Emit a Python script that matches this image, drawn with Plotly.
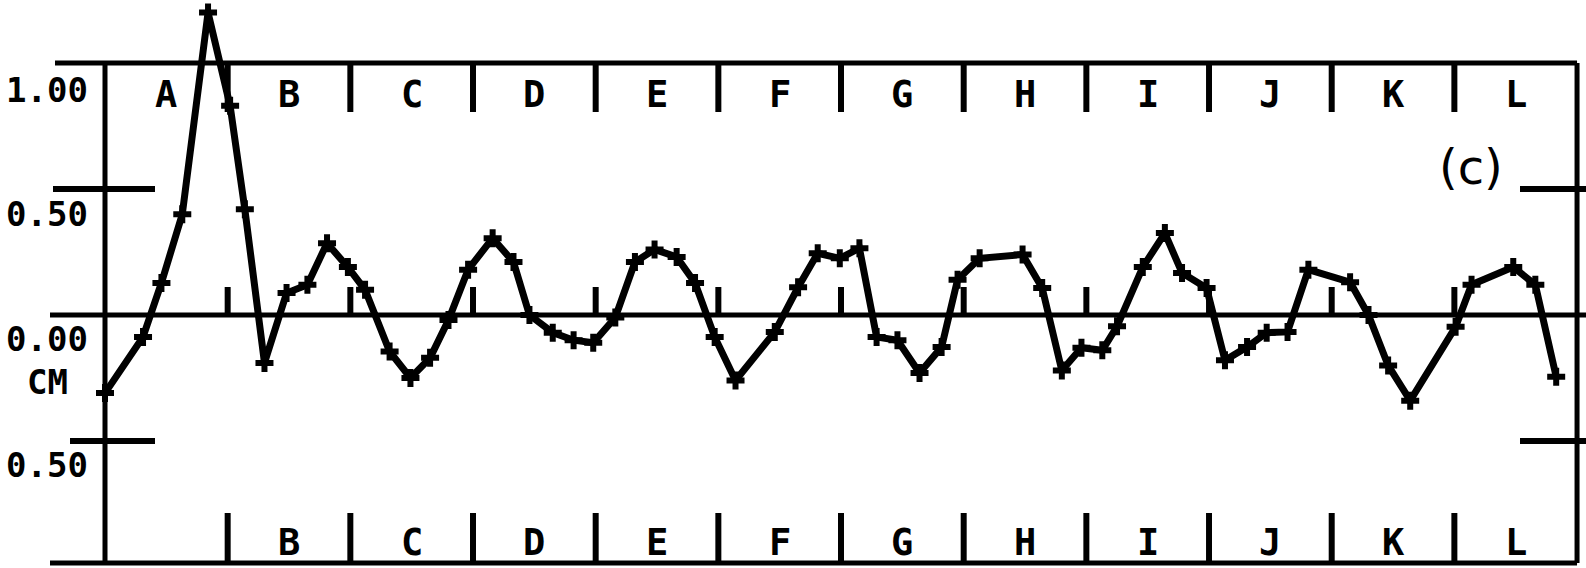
import plotly.graph_objects as go

# ---- data (x in section units: 0..12 spans sections A..L; y in CM) ----
x_pos = [0.00, 0.31, 0.46, 0.63, 0.84, 1.02, 1.14, 1.30, 1.48, 1.65, 1.81, 1.98,
         2.12, 2.32, 2.49, 2.65, 2.80, 2.96, 3.16, 3.33, 3.46, 3.65, 3.82, 3.98,
         4.16, 4.32, 4.48, 4.66, 4.81, 4.97, 5.14, 5.46, 5.65, 5.81, 5.99, 6.15,
         6.29, 6.46, 6.64, 6.82, 6.95, 7.13, 7.48, 7.64, 7.80, 7.96, 8.13, 8.25,
         8.46, 8.64, 8.78, 8.98, 9.13, 9.31, 9.47, 9.64, 9.81, 10.15, 10.30, 10.46,
         10.64, 11.01, 11.14, 11.48, 11.66, 11.83]
y_cm = [-0.31, -0.087, 0.127, 0.40, 1.20, 0.83, 0.42, -0.19, 0.087, 0.12, 0.285, 0.19,
        0.10, -0.145, -0.25, -0.17, -0.02, 0.18, 0.305, 0.21, 0.0, -0.07, -0.10, -0.11,
        -0.01, 0.21, 0.26, 0.23, 0.127, -0.087, -0.26, -0.067, 0.11, 0.245, 0.225, 0.265,
        -0.087, -0.10, -0.23, -0.127, 0.14, 0.225, 0.24, 0.107, -0.22, -0.13, -0.14, -0.045,
        0.19, 0.325, 0.167, 0.107, -0.18, -0.127, -0.07, -0.067, 0.18, 0.13, 0.0, -0.2,
        -0.34, -0.047, 0.12, 0.19, 0.12, -0.245]
top_labels = ["A", "B", "C", "D", "E", "F", "G", "H", "I", "J", "K", "L"]
bottom_labels = ["B", "C", "D", "E", "F", "G", "H", "I", "J", "K", "L"]
y_tick_vals = [1.0, 0.5, 0.0, -0.5]
y_tick_text = ["1.00", "0.50", "0.00", "0.50"]

W, H = 1586, 568
X0_PX, SEC_PX = 105, 122.67
Y0_PX, CM_PX = 315, 252
x_rng = [-X0_PX / SEC_PX, (W - X0_PX) / SEC_PX]
y_rng = [(Y0_PX - H) / CM_PX, Y0_PX / CM_PX]

def px_x(p):
    return (p - X0_PX) / SEC_PX

def px_y(p):
    return (Y0_PX - p) / CM_PX

fig = go.Figure()
fig.add_trace(go.Scatter(
    x=x_pos, y=y_cm, mode="lines+markers",
    line=dict(color="black", width=7),
    marker=dict(symbol="cross", size=15, color="black"),
    cliponaxis=False, showlegend=False, hoverinfo="skip"))

shapes = []
def seg(x0, y0, x1, y1, w=5):
    shapes.append(dict(type="line", xref="x", yref="y", x0=x0, y0=y0, x1=x1, y1=y1,
                       line=dict(color="black", width=w), layer="below"))

y_top, y_bot = 1.0, px_y(563)
# frame
seg(px_x(55), y_top, 12.0, y_top)
seg(px_x(50), y_bot, 12.0, y_bot)
seg(0, y_top, 0, y_bot)
seg(12.0, y_top, 12.0, y_bot)
# zero line and left/right ticks
seg(px_x(50), 0.0, px_x(W), 0.0, 5)
seg(px_x(53), 0.5, px_x(155), 0.5, 6)
seg(px_x(70), -0.5, px_x(155), -0.5, 6)
seg(px_x(1520), 0.5, px_x(W), 0.5, 6)
seg(px_x(1520), -0.5, px_x(W), -0.5, 6)
# section dividers
for k in range(1, 12):
    seg(k, y_top, k, px_y(112), 6)
    seg(k, y_bot, k, px_y(513), 6)
    seg(k, 0.0, k, px_y(287), 6)

font = dict(family="DejaVu Sans Mono", size=37, color="black")
yfont = dict(family="DejaVu Sans Mono", size=34, color="black")
ann = []
for i, t in enumerate(top_labels):
    ann.append(dict(x=i + 0.5, y=px_y(94), text="<b>%s</b>" % t, showarrow=False,
                    font=font, xref="x", yref="y"))
for i, t in enumerate(bottom_labels):
    ann.append(dict(x=i + 1.5, y=px_y(542), text="<b>%s</b>" % t, showarrow=False,
                    font=font, xref="x", yref="y"))
lab_y = {1.0: 90, 0.5: 214, 0.0: 339, -0.5: 465}
for v, t in zip(y_tick_vals, y_tick_text):
    ann.append(dict(x=px_x(47), y=px_y(lab_y[v]), text="<b>%s</b>" % t, showarrow=False,
                    font=yfont, xref="x", yref="y"))
ann.append(dict(x=px_x(47), y=px_y(382), text="<b>CM</b>", showarrow=False,
                font=yfont, xref="x", yref="y"))
ann.append(dict(x=px_x(1471), y=px_y(167), text="(c)", showarrow=False,
                font=dict(family="DejaVu Sans", size=48, color="black"), xref="x", yref="y"))

fig.update_layout(
    width=W, height=H, margin=dict(l=0, r=0, t=0, b=0),
    paper_bgcolor="white", plot_bgcolor="white",
    xaxis=dict(range=x_rng, visible=False, fixedrange=True),
    yaxis=dict(range=y_rng, visible=False, fixedrange=True),
    shapes=shapes, annotations=ann)

fig.write_html("out.html", config={"displayModeBar": False},
               post_script="document.body.style.margin='0';")
